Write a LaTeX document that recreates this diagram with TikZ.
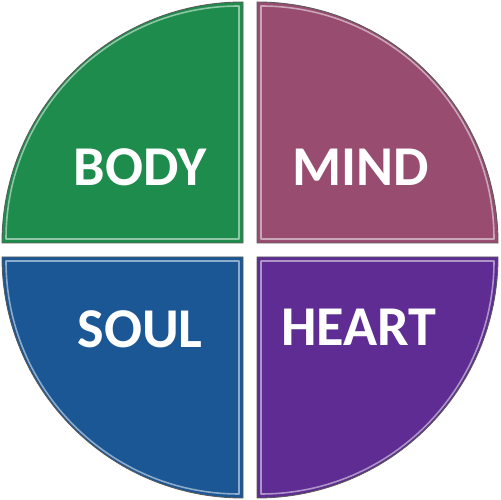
\documentclass[tikz,border=0pt]{standalone}
\usepackage{fontspec}
\setmainfont{Carlito}
\usepackage{xcolor}
\usepackage{tikz}
\usetikzlibrary{positioning}
\definecolor{bodygreen}{HTML}{1E8C4C}
\definecolor{mindrose}{HTML}{974C70}
\definecolor{soulblue}{HTML}{1B5795}
\definecolor{heartviolet}{HTML}{5E2C92}
\definecolor{rimgrey}{HTML}{5A5A5A}

\begin{document}
\begin{tikzpicture}[x=0.02cm, y=0.02cm,
  quarter/.style={draw=rimgrey, line width=0.5pt},
  gloss/.style={line width=0.9pt, line join=round},
  word/.style={text=white, font=\fontsize{32}{36}\selectfont\bfseries, inner sep=0pt}]
  \useasboundingbox (0,0) rectangle (500,500);
  % four quarter discs
  \fill[bodygreen,quarter]   (243,257)--(243,498) arc (90:180:241)--cycle;
  \fill[mindrose,quarter]    (257,257)--(498,257) arc (0:90:241)--cycle;
  \fill[soulblue,quarter]    (243,243)--(2,243) arc (180:270:241)--cycle;
  \fill[heartviolet,quarter] (257,243)--(257,2) arc (270:360:241)--cycle;
  % bevel highlights
  \draw[gloss,bodygreen!50!white]   (239,261)--(239,494) arc (90:180:233)--cycle;
  \draw[gloss,mindrose!50!white]    (261,261)--(494,261) arc (0:90:233)--cycle;
  \draw[gloss,soulblue!50!white]    (239,239)--(6,239) arc (180:270:233)--cycle;
  \draw[gloss,heartviolet!50!white] (261,239)--(261,6) arc (270:360:233)--cycle;
  % labels
  \node[word] (body)  at (140,333) {BODY};
  \node[word] (mind)  at (361,333) {MIND};
  \node[word] (soul)  at (140,171) {SOUL};
  \node[word] (heart) at (359,173) {HEART};
\end{tikzpicture}
\end{document}
